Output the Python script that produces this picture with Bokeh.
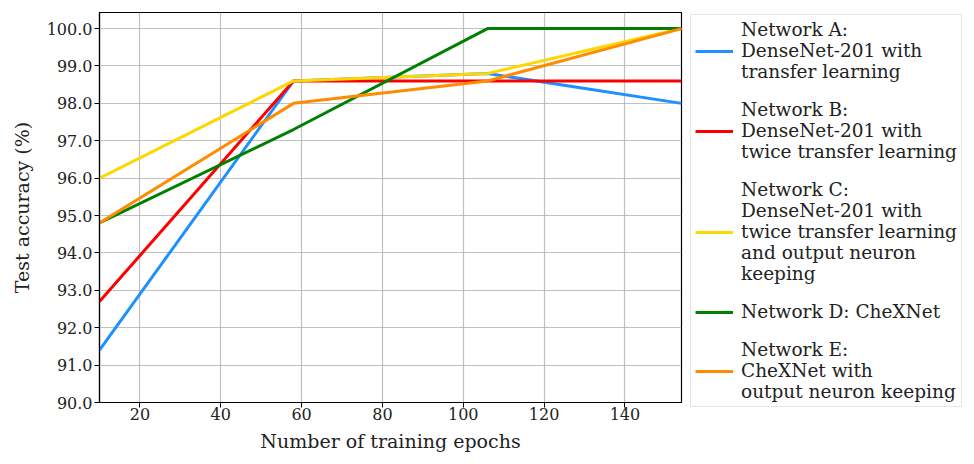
from bokeh.plotting import figure
from bokeh.models import Legend, LegendItem, FixedTicker, NumeralTickFormatter, Range1d
from bokeh.embed import file_html
from bokeh.resources import INLINE

# ---- data ----
epochs = [10, 58, 106, 154]
net_a = [91.4, 98.6, 98.8, 98.0]
net_b = [92.7, 98.6, 98.6, 98.6]
net_c = [96.0, 98.6, 98.8, 100.0]
net_d = [94.8, 97.3, 100.0, 100.0]
net_e = [94.8, 98.0, 98.6, 100.0]
series = [net_a, net_b, net_c, net_d, net_e]
labels = [
    "Network A:\nDenseNet-201 with\ntransfer learning",
    "Network B:\nDenseNet-201 with\ntwice transfer learning",
    "Network C:\nDenseNet-201 with\ntwice transfer learning\nand output neuron\nkeeping",
    "Network D: CheXNet",
    "Network E:\nCheXNet with\noutput neuron keeping",
]
colors = ["#1E90FF", "#FF0000", "#FFD700", "#008000", "#FF8C00"]
x_ticks = [20, 40, 60, 80, 100, 120, 140]
y_ticks = [90, 91, 92, 93, 94, 95, 96, 97, 98, 99, 100]

FONT = "DejaVu Serif"

p = figure(frame_width=582, frame_height=390, output_backend="svg", toolbar_location=None,
           x_range=Range1d(10, 154), y_range=Range1d(90, 100.43),
           min_border_left=99, min_border_right=0, min_border_top=12, min_border_bottom=40)
p.background_fill_color = "white"
p.border_fill_color = "white"
p.outline_line_color = "black"
p.outline_line_width = 1.2

renderers = []
for ys, c in zip(series, colors):
    r = p.line(epochs, ys, line_color=c, line_width=3)
    renderers.append(r)

for ax in (p.xaxis[0], p.yaxis[0]):
    ax.axis_line_color = "black"
    ax.axis_line_width = 1.2
    ax.major_tick_out = 5
    ax.major_tick_in = 0
    ax.minor_tick_out = 0
    ax.minor_tick_in = 0
    ax.major_tick_line_color = "black"
    ax.major_label_text_font = FONT
    ax.major_label_text_font_size = "16px"
    ax.major_label_text_color = "#222222"
    ax.major_label_standoff = 2
    ax.axis_label_text_font = FONT
    ax.axis_label_text_font_size = "19px"
    ax.axis_label_text_font_style = "normal"
    ax.axis_label_text_color = "#222222"

p.xaxis.ticker = FixedTicker(ticks=x_ticks)
p.yaxis.ticker = FixedTicker(ticks=y_ticks)
p.yaxis.formatter = NumeralTickFormatter(format="0.0")
p.xaxis.axis_label = "Number of training epochs"
p.yaxis.axis_label = "Test accuracy (%)"
p.xaxis.major_label_standoff = 0
p.xaxis.axis_label_standoff = 7
p.yaxis.axis_label_standoff = 11

p.xgrid.ticker = FixedTicker(ticks=x_ticks)
p.ygrid.ticker = FixedTicker(ticks=y_ticks)
for g in (p.xgrid[0], p.ygrid[0]):
    g.grid_line_color = "#b0b0b0"
    g.grid_line_width = 1.2
    g.grid_line_alpha = 0.8

items = [LegendItem(label=l, renderers=[r]) for l, r in zip(labels, renderers)]
legend = Legend(items=items, location=(9, -5), margin=0, padding=4,
                spacing=17, glyph_width=38, label_standoff=8,
                label_text_font=FONT, label_text_font_size="18.5px",
                label_text_color="#222222", label_text_line_height=1.17,
                border_line_color="#cccccc", border_line_width=1,
                background_fill_color="white", background_fill_alpha=1.0)
p.add_layout(legend, "right")

open("out.html", "w").write(file_html(p, INLINE))
